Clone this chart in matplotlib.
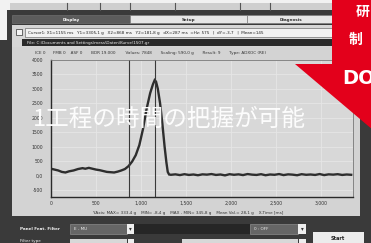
import matplotlib
matplotlib.use("Agg")
import matplotlib.pyplot as plt
from matplotlib.patches import Rectangle, Polygon

# ---------------- data ----------------
time_ms = [0, 40, 80, 120, 160, 200, 250, 300, 350, 380, 420, 460, 500, 540, 580,
           620, 660, 700, 740, 780, 820, 860, 900, 940, 980, 1020, 1060, 1100, 1130,
           1150, 1165, 1185, 1210, 1235, 1260, 1280, 1295, 1310,
           1330, 1380, 1430, 1480, 1530, 1580, 1630, 1680, 1730, 1780, 1830, 1880,
           1930, 1980, 2030, 2080, 2130, 2180, 2230, 2280, 2330, 2380, 2430, 2480,
           2530, 2580, 2630, 2680, 2730, 2780, 2830, 2880, 2930, 2980, 3030, 3080,
           3130, 3180, 3230, 3280, 3330]
force_g = [230, 200, 170, 120, 100, 140, 170, 220, 250, 230, 260, 230, 200, 180, 150,
           120, 110, 100, 130, 170, 220, 320, 480, 700, 1050, 1600, 2300, 2850, 3150,
           3300, 3250, 3000, 2500, 1800, 1000, 450, 120, 30,
           20, 35, 10, 40, 15, 30, 5, 35, 25, 45, 15, 30, 0, 40, 20, 35, 10, 45, 25,
           15, 40, 5, 30, 20, 45, 10, 35, 25, 5, 40, 20, 30, 15, 45, 10, 35, 25, 40,
           15, 30, 20]
cursor_x = [868, 1155]
x_ticks = [0, 500, 1000, 1500, 2000, 2500, 3000]
x_tick_labels = ["0", "500", "1,000", "1,500", "2,000", "2,500", "3,000"]
y_ticks = [-500, 0, 500, 1000, 1500, 2000, 2500, 3000, 3500, 4000]
y_tick_labels = ["-500", "0,0", "500", "1000", "1500", "2000", "2500", "3000", "3500", "4000"]
tabs = ["Display", "Setup", "Diagnosis"]
cursor_text = ("Cursor1: X1=1155 ms   Y1=3305,1 g   X2=868 ms   Y2=181,8 g   "
               "dX=287 ms  =Hz: 575   |  dY=-3,7   |  Mean=145")
file_text = "File: C:\\Documents and Settings\\mess\\Daten\\Kurve\\1507.gr"
info_text = ("ICE 0      FMB 0    ASF 0       BDR 19.000        Values: 7848       "
             "Scaling: 590,0 g       Result: 9       Type: ADXOC (RE)")
axis_text = ("Y-Axis: MAX= 333,4 g    MIN= -8,4 g    MAX - MIN= 345,8 g    "
             "Mean Val.= 28,1 g    X-Time [ms]")
overlay_text = "1工程の時間の把握が可能"

W, H = 371, 243
fig = plt.figure(figsize=(W / 100, H / 100), dpi=100)
fig.patch.set_facecolor("#3a3a3a")

bg = fig.add_axes([0, 0, 1, 1])
bg.set_xlim(0, W)
bg.set_ylim(H, 0)
bg.axis("off")


def rect(ax, x0, y0, x1, y1, fc, ec="none", lw=0.0, z=1):
    ax.add_patch(Rectangle((x0, y0), x1 - x0, y1 - y0, fc=fc, ec=ec, lw=lw, zorder=z))


ui_fs = 3.0
# top strip
rect(bg, 0, 0, W, 10, "#f2f2f2")
rect(bg, 10, 3, 335, 10, "#cfcfcf")
for xd in [67, 100, 130, 175, 240, 270]:
    bg.plot([xd, xd], [3, 10], color="#555555", lw=0.8)
rect(bg, 0, 0, 7, 40, "#f2f2f2")
# tabs
tab_x = [(12, 130), (130, 247), (247, 335)]
for (x0, x1), name, i in zip(tab_x, tabs, range(3)):
    fc = "#5c5c5c" if i == 0 else "#e6e6e6"
    rect(bg, x0, 15, x1, 23, fc, ec="#777777", lw=0.4)
    bg.text((x0 + x1) / 2, 19.5, name, ha="center", va="center", fontsize=ui_fs,
            color="white" if i == 0 else "#333333", weight="bold")
# cursor row
rect(bg, 12, 25, 335, 38, "#d6d6d6")
rect(bg, 16, 29, 22, 35, "#f4f4f4", ec="#333333", lw=0.5)
rect(bg, 25, 28, 335, 37, "#f2f2f2", ec="#555555", lw=0.4)
bg.text(28, 32.8, cursor_text, ha="left", va="center", fontsize=ui_fs, color="#222222")
# file row
rect(bg, 12, 38, 335, 47, "#d6d6d6")
rect(bg, 22, 39, 335, 46, "#2a2a2a")
bg.text(27, 42.8, file_text, ha="left", va="center", fontsize=ui_fs, color="#eeeeee")
# plot panel
rect(bg, 12, 47, 360, 216, "#d3d3d3")
bg.text(35, 53, info_text, ha="left", va="center", fontsize=ui_fs, color="#333333")
bg.text(188, 213, axis_text, ha="center", va="center", fontsize=ui_fs, color="#333333")

# bottom controls
bg.text(20, 229, "Panel Feat. Filter", ha="left", va="center", fontsize=ui_fs,
        color="#f0f0f0", weight="bold")
rect(bg, 70, 224, 127, 234, "#666666", ec="#999999", lw=0.4)
bg.text(74, 229, "E - MU", ha="left", va="center", fontsize=ui_fs, color="#eeeeee")
rect(bg, 127, 224, 134, 234, "#eeeeee")
bg.text(130.5, 229, "▾", ha="center", va="center", fontsize=4, color="#333333")
rect(bg, 134, 224, 250, 234, "#262626")
rect(bg, 250, 224, 298, 234, "#666666", ec="#999999", lw=0.4)
bg.text(254, 229, "0 : OFF", ha="left", va="center", fontsize=ui_fs, color="#eeeeee")
rect(bg, 298, 224, 306, 234, "#eeeeee")
bg.text(302, 229, "▾", ha="center", va="center", fontsize=4, color="#333333")
rect(bg, 313, 232, 364, 246, "#ececec")
bg.text(338, 238, "Start", ha="center", va="center", fontsize=3.6, color="#222222",
        weight="bold")
bg.text(20, 241, "Filter type", ha="left", va="center", fontsize=ui_fs, color="#f0f0f0")
rect(bg, 70, 238.5, 127, 246, "#d8d8d8")
rect(bg, 128, 238.5, 134, 246, "#eeeeee")
rect(bg, 182, 238.5, 298, 246, "#d8d8d8")
rect(bg, 299, 238.5, 306, 246, "#eeeeee")

# ---------------- chart ----------------
ax = fig.add_axes([51 / W, (H - 197) / H, (353 - 51) / W, (197 - 60) / H])
ax.set_facecolor("#d8d8d8")
ax.plot(time_ms, force_g, color="#2e2e2e", lw=1.7, solid_joinstyle="miter")
for cx in cursor_x:
    ax.axvline(cx, color="#3a3a3a", lw=0.8)
ax.set_xlim(0, 3350)
ax.set_ylim(-750, 4000)
ax.set_xticks(x_ticks)
ax.set_xticklabels(x_tick_labels)
ax.set_yticks(y_ticks)
ax.set_yticklabels(y_tick_labels)
ax.tick_params(length=0, labelsize=3.3, labelcolor="#333333", pad=5.5)
ax.tick_params(axis="x", pad=3)
ax.grid(True, color="#e6e6e6", lw=0.6)
ax.set_axisbelow(True)
for side, sp in ax.spines.items():
    sp.set_color("#2a2a2a" if side in ("left", "bottom") else "#777777")
    sp.set_linewidth(1.0 if side in ("left", "bottom") else 0.6)

# ---------------- overlay ----------------
ov = fig.add_axes([0, 0, 1, 1])
ov.set_xlim(0, W)
ov.set_ylim(H, 0)
ov.axis("off")
ov.patch.set_alpha(0)
ov.add_patch(Polygon([(332, 0), (W + 2, 0), (W + 2, 130), (295, 64), (332, 64)],
                     closed=True, fc="#e3001b", ec="none"))
ov.text(356, 12, "研", ha="left", va="center", fontsize=10, color="white",
        weight="bold", family=["Noto Sans CJK JP", "DejaVu Sans"])
ov.text(349, 40, "制", ha="left", va="center", fontsize=10, color="white",
        weight="bold", family=["Noto Sans CJK JP", "DejaVu Sans"])
ov.text(342, 78, "DO", ha="left", va="center", fontsize=14, color="white",
        weight="bold", family=["DejaVu Sans"])
ov.text(33, 119, overlay_text, ha="left", va="center", fontsize=17, color="white",
        family=["Noto Sans CJK JP", "DejaVu Sans"], alpha=0.95)

fig.savefig("out.png", dpi=100, facecolor=fig.get_facecolor())
